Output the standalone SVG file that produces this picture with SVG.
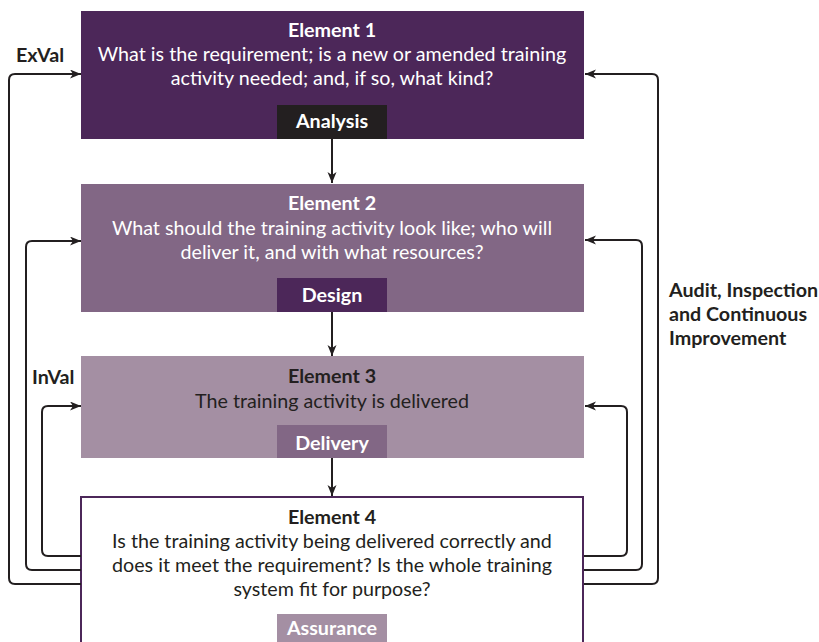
<svg xmlns="http://www.w3.org/2000/svg" width="819" height="642" viewBox="0 0 819 642">
<style>
text{font-family:Lato,"Noto Sans",sans-serif;font-size:19.7px;text-anchor:middle}
.b{font-weight:bold}
.w{fill:#ffffff}
.d{fill:#231f20}
.lab{font-weight:bold;fill:#231f20;text-anchor:start}
.conn{fill:none;stroke:#231f20;stroke-width:2}
</style>
<defs>
<marker id="ah" markerUnits="userSpaceOnUse" markerWidth="12" markerHeight="10" refX="11" refY="4.5" orient="auto">
<path d="M0,0 L11,4.5 L0,9 L3,4.5 Z" fill="#231f20"/>
</marker>
</defs>
<rect width="819" height="642" fill="#ffffff"/>
<g id="element1">
<rect x="81" y="11" width="503" height="128" fill="#4c2759"/>
<text class="b w" x="332" y="37">Element 1</text>
<text class="w" x="332" y="61">What is the requirement; is a new or amended training</text>
<text class="w" x="332" y="85">activity needed; and, if so, what kind?</text>
<rect x="277" y="105" width="110" height="34" fill="#231f20"/>
<text class="b w" x="332" y="128">Analysis</text>
</g>
<g id="element2">
<rect x="81" y="184" width="503" height="128" fill="#826785"/>
<text class="b w" x="332" y="210">Element 2</text>
<text class="w" x="332" y="235">What should the training activity look like; who will</text>
<text class="w" x="332" y="259">deliver it, and with what resources?</text>
<rect x="277" y="278" width="110" height="34" fill="#4c2759"/>
<text class="b w" x="332" y="302">Design</text>
</g>
<g id="element3">
<rect x="81" y="356" width="503" height="102" fill="#a48fa3"/>
<text class="b d" x="332" y="383">Element 3</text>
<text class="d" x="332" y="408">The training activity is delivered</text>
<rect x="277" y="425" width="110" height="33" fill="#826785"/>
<text class="b w" x="332" y="450">Delivery</text>
</g>
<g id="element4">
<rect x="81" y="497" width="502" height="170" fill="#ffffff" stroke="#4c2759" stroke-width="2"/>
<text class="b d" x="332" y="524">Element 4</text>
<text class="d" x="332" y="548">Is the training activity being delivered correctly and</text>
<text class="d" x="332" y="572">does it meet the requirement? Is the whole training</text>
<text class="d" x="332" y="596">system fit for purpose?</text>
<rect x="277" y="614" width="110" height="40" fill="#a48fa3"/>
<text class="b w" x="332" y="635">Assurance</text>
</g>
<g id="labels">
<text class="lab" x="16" y="62">ExVal</text>
<text class="lab" x="32" y="384">InVal</text>
<text class="lab" x="669" y="297">Audit, Inspection</text>
<text class="lab" x="669" y="321">and Continuous</text>
<text class="lab" x="669" y="345">Improvement</text>
</g>
<g id="connectors">
<path class="conn" marker-end="url(#ah)" d="M332,139 V183"/>
<path class="conn" marker-end="url(#ah)" d="M332,312 V356"/>
<path class="conn" marker-end="url(#ah)" d="M332,458 V496"/>
<path class="conn" marker-end="url(#ah)" d="M81,584 H15 Q9,584 9,578 V80 Q9,74 15,74 H81"/>
<path class="conn" marker-end="url(#ah)" d="M81,570 H32 Q26,570 26,564 V247 Q26,241 32,241 H81"/>
<path class="conn" marker-end="url(#ah)" d="M81,556 H48 Q42,556 42,550 V412 Q42,406 48,406 H81"/>
<path class="conn" marker-end="url(#ah)" d="M584,584 H652 Q658,584 658,578 V80 Q658,74 652,74 H585"/>
<path class="conn" marker-end="url(#ah)" d="M584,570 H636 Q642,570 642,564 V246 Q642,240 636,240 H585"/>
<path class="conn" marker-end="url(#ah)" d="M584,556 H621 Q627,556 627,550 V412 Q627,406 621,406 H585"/>
</g>
</svg>
